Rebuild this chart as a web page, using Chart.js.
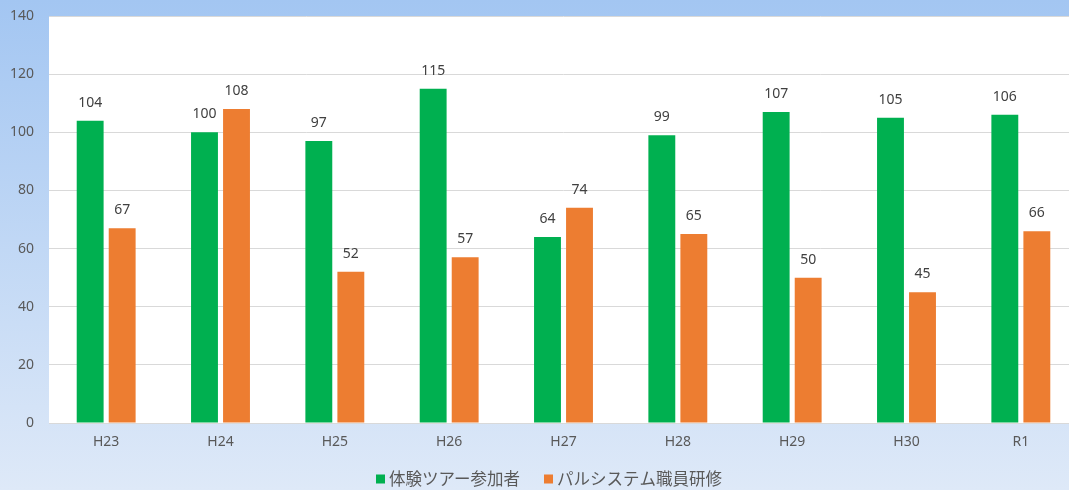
<!DOCTYPE html>
<html>
<head>
<meta charset="utf-8">
<script src="https://cdn.jsdelivr.net/npm/chart.js@4/dist/chart.umd.min.js"></script>
<style>
html,body{margin:0;padding:0;overflow:hidden;background:#dde8f7;}
#wrap{width:1078px;height:490px;}
</style>
</head>
<body>
<div id="wrap"><canvas id="c" width="1078" height="490"></canvas></div>
<script>
const categories = ['H23','H24','H25','H26','H27','H28','H29','H30','R1'];
const tourParticipants = [104,100,97,115,64,99,107,105,106];
const staffTraining = [67,108,52,57,74,65,50,45,66];
const yTicks = [0,20,40,60,80,100,120,140];
const seriesNames = ['体験ツアー参加者','パルシステム職員研修'];

const bgPlugin = {
  id:'bg',
  beforeDraw(chart){
    const {ctx, chartArea:a, width, height} = chart;
    ctx.save();
    const g = ctx.createLinearGradient(0,0,0,height);
    g.addColorStop(0,'#a3c6f2');
    g.addColorStop(1,'#dee9f8');
    ctx.fillStyle = g;
    ctx.fillRect(0,0,width,height);
    ctx.fillStyle = '#ffffff';
    ctx.fillRect(a.left,a.top,width-a.left,a.bottom-a.top);
    ctx.restore();
  }
};

const labelPlugin = {
  id:'labels',
  afterDatasetsDraw(chart){
    const ctx = chart.ctx;
    ctx.save();
    ctx.font = '14px "Noto Sans", sans-serif';
    ctx.fillStyle = '#404040';
    ctx.textAlign = 'center';
    ctx.textBaseline = 'middle';
    chart.data.datasets.forEach((ds,i)=>{
      chart.getDatasetMeta(i).data.forEach((bar,j)=>{
        ctx.fillText(String(ds.data[j]), bar.x, bar.y - 18);
      });
    });
    ctx.restore();
  }
};

const legendPlugin = {
  id:'customLegend',
  afterDraw(chart){
    const ctx = chart.ctx;
    ctx.save();
    ctx.font = '16.5px "Noto Sans CJK JP", sans-serif';
    ctx.textBaseline = 'middle';
    ctx.textAlign = 'left';
    const box = 9, boxGap = 4, itemGap = 24;
    const items = chart.data.datasets.map(ds=>({text:ds.label, color:ds.backgroundColor, w: box + boxGap + ctx.measureText(ds.label).width}));
    const total = items.reduce((s,it)=>s+it.w,0) + itemGap*(items.length-1);
    let x = chart.width/2 + 10 - total/2;
    const y = chart.height - 11;
    items.forEach(it=>{
      ctx.fillStyle = it.color;
      ctx.fillRect(x, y - box/2, box, box);
      ctx.fillStyle = '#595959';
      ctx.fillText(it.text, x + box + boxGap, y);
      x += it.w + itemGap;
    });
    ctx.restore();
  }
};

new Chart(document.getElementById('c'), {
  type:'bar',
  data:{
    labels:categories,
    datasets:[
      {label:seriesNames[0], data:tourParticipants, backgroundColor:'#00b050'},
      {label:seriesNames[1], data:staffTraining, backgroundColor:'#ed7d31'}
    ]
  },
  options:{
    responsive:false,
    animation:false,
    events:[],
    layout:{padding:{top:16,left:0,right:0,bottom:37}},
    datasets:{bar:{categoryPercentage:0.56, barPercentage:0.84}},
    scales:{
      x:{
        grid:{display:false, drawTicks:false},
        border:{display:true,color:'#d9d9d9'},
        ticks:{color:'#595959', font:{family:'"Noto Sans", sans-serif', size:14}, padding:11},
        afterFit(s){ s.height = 30; s.paddingLeft = 0; s.paddingRight = 0; }
      },
      y:{
        min:0, max:140,
        afterBuildTicks(s){ s.ticks = yTicks.map(v=>({value:v})); },
        grid:{color:'#d9d9d9', drawTicks:false},
        border:{display:false},
        ticks:{color:'#595959', font:{family:'"Noto Sans", sans-serif', size:14}, padding:15},
        afterFit(s){ s.width = 49; s.paddingTop = 0; s.paddingBottom = 0; }
      }
    },
    plugins:{
      legend:{display:false},
      tooltip:{enabled:false}
    }
  },
  plugins:[bgPlugin, labelPlugin, legendPlugin]
});
</script>
</body>
</html>
